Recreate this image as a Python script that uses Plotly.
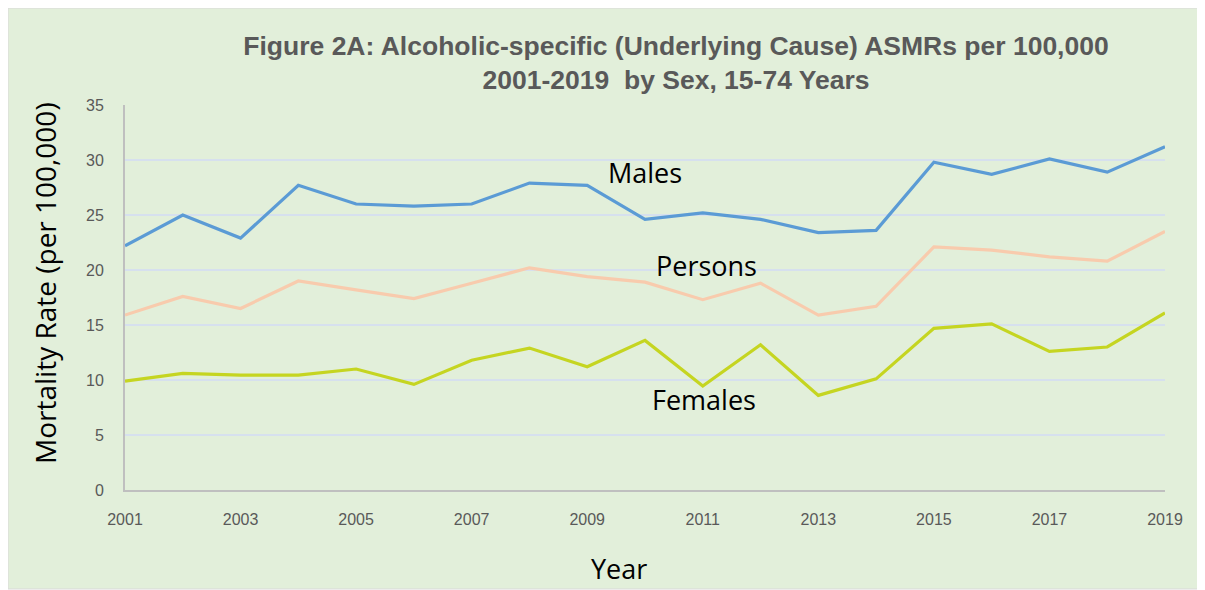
import plotly.graph_objects as go

years = list(range(2001, 2020))
males = [22.2, 25.0, 22.9, 27.7, 26.0, 25.8, 26.0, 27.9, 27.7, 24.6, 25.2, 24.6, 23.4, 23.6, 29.8, 28.7, 30.1, 28.9, 31.2]
persons = [15.9, 17.6, 16.5, 19.0, 18.2, 17.4, 18.8, 20.2, 19.4, 18.9, 17.3, 18.8, 15.9, 16.7, 22.1, 21.8, 21.2, 20.8, 23.5]
females = [9.9, 10.6, 10.45, 10.45, 11.0, 9.6, 11.8, 12.9, 11.2, 13.6, 9.45, 13.2, 8.6, 10.1, 14.7, 15.1, 12.6, 13.0, 16.1]

series = [("Males", males, "#5B9BD5"), ("Persons", persons, "#F8CBAD"), ("Females", females, "#C5D521")]
labels = [("Males", 2010.0, 28.9), ("Persons", 2011.06, 20.4), ("Females", 2011.02, 8.2)]

W, H = 1205, 590
L, R, T, B = 117, 48, 97, 108
pw, ph = W - L - R, H - T - B

fig = go.Figure()
for name, vals, col in series:
    fig.add_trace(go.Scatter(x=years, y=vals, mode="lines", name=name,
                             line=dict(color=col, width=3.2), showlegend=False))

for txt, x, y in labels:
    fig.add_annotation(x=x, y=y, text=txt, showarrow=False, xanchor="center", yanchor="middle",
                       font=dict(family="Open Sans, sans-serif", size=27, color="#000000"))

# axis titles placed as annotations (pixel positions relative to plot area)
fig.add_annotation(xref="paper", yref="paper", x=(611 - L) / pw, y=(H - B - 560) / ph,
                   text="Year", showarrow=False, xanchor="center", yanchor="middle",
                   font=dict(family="Open Sans, sans-serif", size=27, color="#000000"))
fig.add_annotation(xref="paper", yref="paper", x=(37 - L) / pw, y=(H - B - 275) / ph,
                   text="Mortality Rate (per 100,000)", textangle=-90, showarrow=False,
                   xanchor="center", yanchor="middle",
                   font=dict(family="Open Sans, sans-serif", size=28, color="#000000"))

# background panel with border
fig.add_shape(type="rect", xref="paper", yref="paper", layer="below",
              x0=(0 - L) / pw, x1=(1196 - L) / pw,
              y0=(H - B - 581) / ph, y1=(H - B - 0) / ph,
              fillcolor="#E2EFDA", line=dict(color="#D9D9D9", width=1))

tickfont = dict(family="Liberation Sans, Arial, sans-serif", size=16, color="#595959")
fig.update_layout(
    width=W, height=H,
    margin=dict(l=L, r=R, t=T, b=B),
    paper_bgcolor="#FFFFFF",
    plot_bgcolor="rgba(0,0,0,0)",
    title=dict(text="<b>Figure 2A: Alcoholic-specific (Underlying Cause) ASMRs per 100,000<br>2001-2019  by Sex, 15-74 Years</b>",
               x=668 / W, xanchor="center", y=1 - 47 / H, yanchor="middle",
               font=dict(family="Liberation Sans, Arial, sans-serif", size=26.5, color="#595959")),
    xaxis=dict(range=[2001, 2019], tickmode="array", tickvals=list(range(2001, 2020, 2)),
               showgrid=False, zeroline=False, showline=True, linecolor="#BFBFBF", linewidth=2,
               ticks="outside", ticklen=14, tickcolor="rgba(0,0,0,0)", tickfont=tickfont),
    yaxis=dict(range=[0, 35], tickmode="array", tickvals=list(range(0, 36, 5)),
               showgrid=True, gridcolor="#D6E0EE", gridwidth=2, zeroline=False,
               showline=True, linecolor="#BFBFBF", linewidth=2,
               ticks="outside", ticklen=16, tickcolor="rgba(0,0,0,0)", tickfont=tickfont),
)

fig.write_html("out.html")
